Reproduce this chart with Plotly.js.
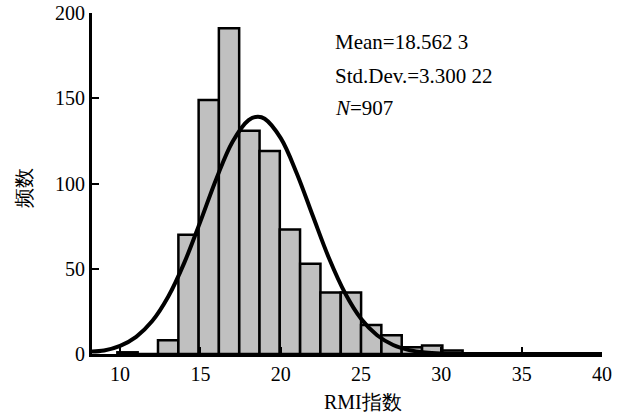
<!DOCTYPE html>
<html>
<head>
<meta charset="utf-8">
<script src="https://cdn.plot.ly/plotly-3.0.1.min.js"></script>
<style>html,body{margin:0;padding:0;background:#fff;}#chart{width:624px;height:413px;}</style>
</head>
<body>
<div id="chart"></div>
<script>
// Histogram bins (centers) and frequencies
const binCenters = [10.46, 11.73, 12.99, 14.26, 15.52, 16.78, 18.05, 19.31, 20.57, 21.84, 23.10, 24.37, 25.63, 26.90, 28.16, 29.43, 30.69];
const binWidth = 1.264;
const counts = [1, 0, 8, 70, 149, 191, 131, 119, 73, 53, 36, 36, 17, 11, 4, 5, 2];

// Fitted normal curve
const curveX = [8.25, 9, 10, 11, 12, 13, 14, 15, 16, 17, 18, 18.56, 19, 20, 21, 22, 23, 24, 25, 26, 27, 28, 29, 30, 31, 32, 34, 40];
const curveY = [1.5, 2.1, 4.8, 10.1, 19.3, 33.7, 53.6, 77.8, 103.0, 124.5, 137.2, 139.2, 138.0, 126.6, 105.9, 80.9, 56.3, 35.8, 20.7, 11.0, 5.3, 2.3, 0.9, 0.3, 0.1, 0.03, 0, 0];

const xTicks = [10, 15, 20, 25, 30, 35, 40];
const yTicks = [0, 50, 100, 150, 200];

const statLines = ["Mean=18.562 3", "Std.Dev.=3.300 22", "<i>N</i>=907"];
const xTitle = "RMI指数";
const yTitle = "频数";

const serif = "'Times New Roman', 'Liberation Serif', 'DejaVu Serif', serif";

const traces = [
  {
    type: "bar",
    x: binCenters,
    y: counts,
    width: binCenters.map(() => binWidth),
    marker: { color: "#c0c0c0", line: { color: "#000", width: 2.5 } },
    hoverinfo: "skip"
  },
  {
    type: "scatter",
    mode: "lines",
    x: curveX,
    y: curveY,
    line: { color: "#000", width: 4, shape: "spline", smoothing: 1 },
    hoverinfo: "skip"
  }
];

const statY = [0.915, 0.814, 0.7214];
const annotations = statLines.map((t, i) => ({
  xref: "paper", yref: "paper", x: 0.4725, y: statY[i],
  xanchor: "left", yanchor: "middle", showarrow: false,
  text: t, font: { family: serif, size: 21, color: "#000" }
}));
annotations.push({
  xref: "paper", yref: "paper", x: 0.531, y: -0.1408,
  xanchor: "center", yanchor: "middle", showarrow: false,
  text: xTitle, font: { family: serif, size: 20, color: "#000" }
});
annotations.push({
  xref: "paper", yref: "paper", x: -0.1333, y: 0.487,
  xanchor: "center", yanchor: "middle", showarrow: false, textangle: -90,
  text: yTitle, font: { family: serif, size: 20, color: "#000" }
});

const layout = {
  width: 624, height: 413,
  margin: { l: 92, r: 22, t: 13, b: 59 },
  paper_bgcolor: "#fff", plot_bgcolor: "#fff",
  showlegend: false,
  bargap: 0,
  font: { family: serif, size: 20, color: "#000" },
  xaxis: {
    range: [8.25, 40],
    tickvals: xTicks, ticktext: xTicks.map(String),
    showline: true, linecolor: "#000", linewidth: 3,
    ticks: "inside", ticklen: 7, tickwidth: 2, tickcolor: "#000",
    showgrid: false, zeroline: false,
    tickfont: { family: serif, size: 20, color: "#000" }
  },
  yaxis: {
    range: [0, 200],
    tickvals: yTicks, ticktext: yTicks.map(String),
    showline: true, linecolor: "#000", linewidth: 3,
    ticks: "inside", ticklen: 7, tickwidth: 2, tickcolor: "#000",
    showgrid: false, zeroline: false,
    tickfont: { family: serif, size: 20, color: "#000" }
  },
  annotations: annotations
};

Plotly.newPlot("chart", traces, layout, { displayModeBar: false, staticPlot: true });
</script>
</body>
</html>
